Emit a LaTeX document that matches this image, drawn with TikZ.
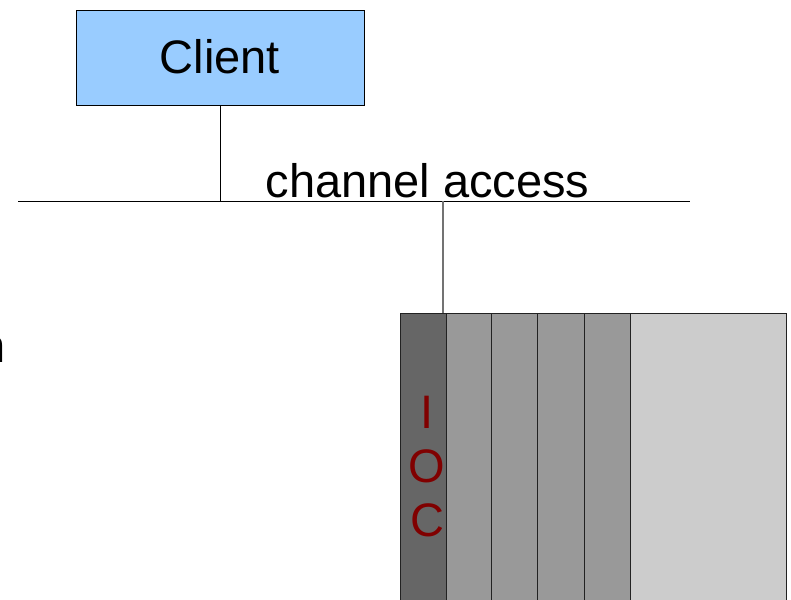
\documentclass[tikz,border=0pt]{standalone}
\usepackage{fontspec}
\setmainfont{Liberation Sans}
\definecolor{clientblue}{HTML}{99CCFF}
\definecolor{iocdark}{HTML}{666666}
\definecolor{iocmid}{HTML}{999999}
\definecolor{ioclight}{HTML}{CCCCCC}
\definecolor{iocred}{HTML}{800000}
\definecolor{panelline}{HTML}{222222}
\begin{document}
\begin{tikzpicture}[x=1pt,y=-1pt,
  bigtext/.style={font=\fontsize{47}{54}\selectfont, inner sep=0pt},
  panel/.style={draw=panelline, line width=1.3pt, anchor=north west, inner sep=0pt, minimum height=300pt},
  wire/.style={draw=black, line width=0.9pt},
  graywire/.style={draw=gray!90!black, line width=1.5pt}]
\useasboundingbox (0,0) rectangle (791,599);
\clip (0,0) rectangle (791,599);
% Client box
\node[draw=black, line width=0.9pt, fill=clientblue, anchor=north west, inner sep=0pt,
      minimum width=288pt, minimum height=95pt] (client) at (76,10) {};
\node[bigtext, anchor=base] (clientlabel) at (220,74) {Client};
% bus
\coordinate (busL) at (18,201);
\coordinate (busR) at (690,201);
\coordinate (busA) at (220,201);
\coordinate (busB) at (443,201);
\draw[wire] (busL) -- (busR);
\draw[wire] (client.south -| busA) -- (busA);
\node[bigtext, anchor=base] (calabel) at (427.5,197) {channel access};
% IOC rack
\node[panel, fill=ioclight, minimum width=156pt] (p6) at (630,313) {};
\node[panel, fill=iocmid, minimum width=46pt] (p5) at (584,313) {};
\node[panel, fill=iocmid, minimum width=47pt] (p4) at (537,313) {};
\node[panel, fill=iocmid, minimum width=46pt] (p3) at (491,313) {};
\node[panel, fill=iocmid, minimum width=45pt] (p2) at (446,313) {};
\node[panel, fill=iocdark, minimum width=46pt] (ioc) at (400,313) {};
\node[bigtext, anchor=base, text=iocred] (iocI) at (427,428) {I};
\node[bigtext, anchor=base, text=iocred] (iocO) at (427,482) {O};
\node[bigtext, anchor=base, text=iocred] (iocC) at (427,536) {C};
\draw[graywire] (busB) -- (busB |- ioc.north);
% cut-off text at left edge
\node[bigtext, anchor=base west] (cut) at (-21,362) {n};
\end{tikzpicture}
\end{document}
